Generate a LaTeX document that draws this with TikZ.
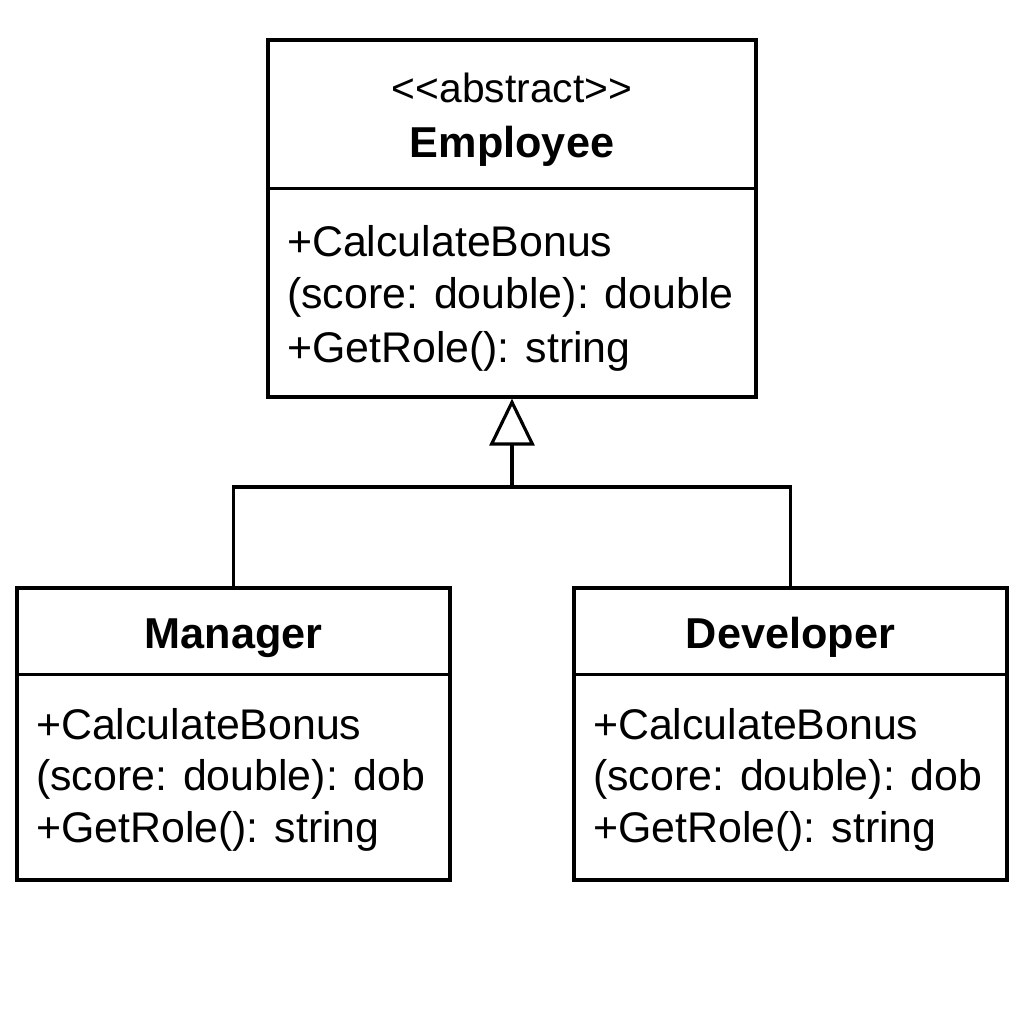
\documentclass[tikz,border=0pt]{standalone}
\usepackage{fontspec}
\setmainfont{Liberation Sans}
\usetikzlibrary{arrows.meta}
\begin{document}
\begin{tikzpicture}[
	classbox/.style={ draw, line width=0.9pt, inner sep=0pt },
	classname/.style={ anchor=base, inner sep=0pt, font=\fontsize{12.3}{15}\selectfont\bfseries },
	member/.style={ anchor=base west, inner sep=0pt, font=\fontsize{12.2}{15}\selectfont },
	inherit/.style={ line width=0.9pt, -{Triangle[open,length=4.7mm,width=4.5mm]} }
]

\useasboundingbox (0,0) rectangle (10.24,-10.24);

% abstract base class
\node at (5.12,-2.185) (employee) [classbox, minimum width=4.88cm, minimum height=3.57cm] {};
\draw[line width=0.9pt] ([yshift=-1.50cm]employee.north west) -- ([yshift=-1.50cm]employee.north east);
\node at ([yshift=-0.64cm]employee.north) (stereo) [member, anchor=base, font=\fontsize{11.6}{15}\selectfont] {<{}<abstract>{}>};
\node at ([yshift=-1.19cm]employee.north) (empname) [classname] {Employee};
\node at ([xshift=0.20cm,yshift=-2.18cm]employee.north west) (emp1) [member] {+CalculateBonus};
\node at ([xshift=0.20cm,yshift=-2.70cm]employee.north west) (emp2) [member] {(score: double): double};
\node at ([xshift=0.20cm,yshift=-3.24cm]employee.north west) (emp3) [member] {+GetRole(): string};

% derived classes
\foreach \name/\x/\title in {manager/2.335/Manager, developer/7.905/Developer} {
	\node at (\x,-7.34) (\name) [classbox, minimum width=4.33cm, minimum height=2.92cm] {};
	\draw[line width=0.9pt] ([yshift=-0.88cm]\name.north west) -- ([yshift=-0.88cm]\name.north east);
	\node at ([yshift=-0.62cm]\name.north) (\name-title) [classname] {\title};
	\node at ([xshift=0.20cm,yshift=-1.53cm]\name.north west) (\name-1) [member] {+CalculateBonus};
	\node at ([xshift=0.20cm,yshift=-2.04cm]\name.north west) (\name-2) [member] {(score: double): dob};
	\node at ([xshift=0.20cm,yshift=-2.56cm]\name.north west) (\name-3) [member] {+GetRole(): string};
}

% generalization
\coordinate (joint) at (5.12,-4.87);
\draw[line width=0.9pt] (manager.north) |- (joint) -| (developer.north);
\draw[inherit] (joint) -- (employee.south);

\end{tikzpicture}
\end{document}
